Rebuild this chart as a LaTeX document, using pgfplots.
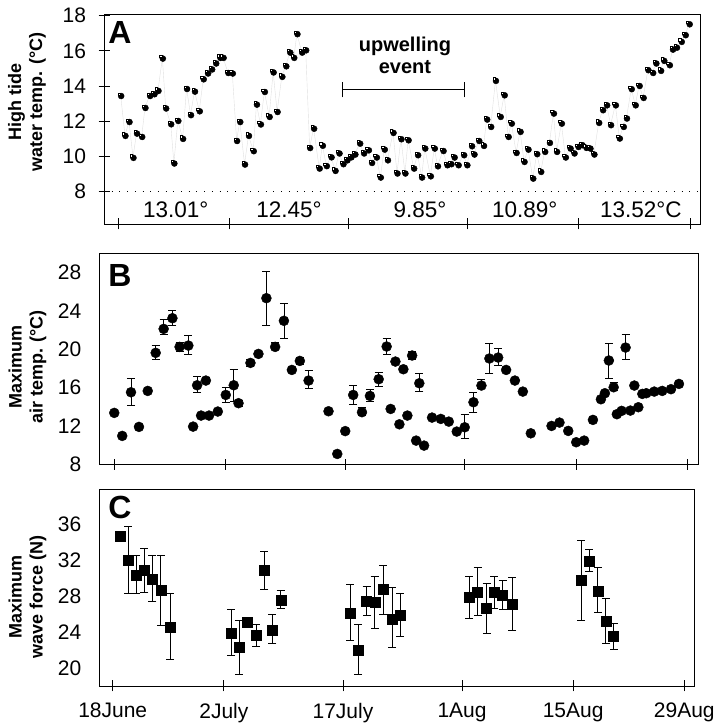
\documentclass[border=0pt]{standalone}
\usepackage{pgfplots}
\usepackage{pgfplotstable}
\pgfplotsset{compat=1.18}
\usepackage{fontspec}
\setmainfont{Liberation Sans}

\pgfplotstableread{
x y
0.3 13.46
0.84 11.19
1.35 11.98
1.85 9.94
2.3 11.32
2.95 11.13
3.36 12.78
3.95 13.46
4.5 13.56
5.0 13.75
5.55 15.59
5.97 12.75
6.6 11.85
7.0 9.62
7.5 12.04
8.1 11.02
8.6 13.86
9.1 12.37
9.6 13.71
10.2 12.59
10.7 14.41
11.25 14.74
11.76 14.97
12.27 15.31
12.8 15.63
13.2 15.63
13.8 14.77
14.36 14.74
14.9 10.9
15.3 11.98
15.9 9.56
16.4 11.19
17.0 10.32
17.4 12.97
17.9 11.84
18.4 13.69
19.0 12.27
19.5 14.8
20.0 12.55
20.6 14.55
21.1 15.15
21.6 15.93
22.1 15.63
22.5 16.98
23.1 15.93
23.6 16.06
24.1 10.5
24.6 11.6
25.3 9.33
25.7 10.63
26.2 9.47
26.8 9.97
27.3 9.2
27.8 10.19
28.3 9.58
28.8 9.8
29.3 9.97
29.8 10.13
30.4 10.75
30.9 10.19
31.5 10.37
31.9 9.65
32.5 9.96
33.0 8.82
33.5 10.41
33.9 9.8
34.6 11.36
35.1 9.05
35.6 11.0
36.1 9.05
36.5 10.94
37.2 9.33
37.7 10.09
38.2 8.82
38.6 10.47
39.3 8.89
39.8 10.47
40.2 9.46
40.9 10.33
41.4 9.52
41.9 9.58
42.3 9.96
42.8 9.52
43.5 10.09
43.9 9.52
44.5 10.6
44.8 10.13
45.4 10.9
46.0 10.62
46.4 12.12
46.9 11.7
47.5 14.32
48.1 12.27
48.6 13.5
49.1 11.13
49.5 11.89
50.1 10.22
50.6 11.42
51.1 9.71
51.6 10.41
52.2 8.76
52.7 10.15
53.2 9.14
53.7 10.28
54.3 10.79
54.8 12.46
55.2 10.28
55.8 11.89
56.3 9.96
56.9 10.47
57.4 10.19
57.9 10.56
58.4 10.66
58.9 10.51
59.4 10.47
59.9 10.13
60.5 11.93
61.0 12.65
61.5 12.93
62.0 11.8
62.6 12.93
63.1 11.04
63.6 11.7
64.0 12.18
64.6 13.85
65.1 12.93
65.6 14.03
66.1 13.35
66.7 14.93
67.3 14.77
67.7 15.31
68.3 14.89
68.7 15.46
69.4 15.21
69.8 16.1
70.3 16.21
70.9 16.54
71.4 16.92
71.9 17.54
}\dataA

\pgfplotstableread{
x y
0 13.36
1.0 10.96
3.1 11.9
4.2 15.65
9.9 11.93
10.9 13.08
11.9 13.08
13.0 13.5
18.1 19.51
22.3 17.84
26.9 13.53
28.0 9.08
29.0 11.46
34.7 13.77
35.3 18.71
35.8 12.17
36.3 17.91
36.8 13.08
37.9 10.47
38.9 9.95
39.9 12.87
41.0 12.73
42.0 12.45
43.0 11.41
49.2 17.84
50.3 16.73
51.3 15.58
52.3 11.23
54.9 12.0
55.9 12.35
57.0 11.48
58.0 10.3
59.0 10.47
60.1 12.63
61.1 14.78
61.6 15.41
63.1 13.22
63.7 13.57
64.8 13.6
65.3 16.21
65.8 13.95
66.3 15.34
66.8 15.41
67.8 15.58
68.8 15.65
69.9 15.83
70.9 16.38
}\dataB

\pgfplotstableread{
x y ep em
2.1 15.51 1.46 1.42
5.2 19.62 0.76 0.66
6.2 22.12 1.0 0.6
7.3 23.23 0.8 0.76
8.2 20.24 0.5 0.5
9.3 20.38 1.08 0.9
10.4 16.24 0.96 0.73
11.5 16.73 0.3 0.3
14.0 15.23 0.8 0.8
15.0 16.24 1.67 1.67
15.6 14.37 0.3 0.3
17.1 18.57 0.4 0.4
19.1 25.32 2.78 2.82
20.2 20.24 0.5 0.3
21.3 22.96 1.84 1.81
23.3 18.78 0.4 0.4
24.4 16.73 1.04 0.8
30.0 15.23 1.0 0.97
31.1 13.43 0.5 0.3
32.1 15.13 0.63 0.59
33.2 16.87 0.73 0.77
34.2 20.28 0.87 0.77
37.4 19.34 0.4 0.4
38.3 16.45 1.05 0.8
44.0 11.86 1.39 1.15
45.1 14.47 1.04 1.11
46.1 16.21 0.6 0.3
47.1 19.03 1.6 1.6
48.2 19.13 0.97 0.87
62.1 18.82 1.81 1.85
62.7 16.03 0.5 0.3
64.2 20.17 1.33 1.21
}\dataBerr

\pgfplotstableread{
x y ep em
1.97 32.04 3.7 3.71
2.94 30.37 2.22 2.04
3.99 30.93 2.4 2.49
5.0 29.93 2.66 2.53
6.05 28.7 3.89 3.89
7.22 24.52 3.81 3.52
14.9 23.89 2.67 2.41
15.9 22.33 2.97 3.0
18.05 23.63 1.3 1.23
19.1 30.85 2.19 2.07
20.1 24.26 1.78 1.48
21.16 27.52 1.18 0.85
29.9 26.11 3.22 2.96
30.9 22.04 2.85 2.71
31.98 27.41 1.66 1.56
33.0 27.3 2.89 2.86
34.1 28.78 2.7 2.78
35.2 25.44 3.56 3.11
36.2 25.93 2.4 2.33
44.9 27.89 2.3 2.33
45.97 28.44 2.78 2.59
47.1 26.67 2.77 2.78
48.07 28.41 1.78 1.74
49.1 28.07 1.74 1.47
50.3 27.11 3.0 2.92
59.0 29.74 4.52 4.44
60.0 31.96 1.26 1.16
61.1 28.59 2.63 2.37
62.1 25.26 2.52 2.48
63.1 23.52 1.48 1.41
}\dataCerr

\pgfplotstableread{
x y
0.92 34.7
16.96 25.1
}\dataC

\pgfplotsset{
  panel/.style={
    scale only axis, anchor=south west,
    axis line style={line width=0.8pt},
    xtick={0,14,29,44,58,72},
    xtick pos=bottom, ytick pos=left,
    tick align=center,
    major tick length=11pt,
    tick style={line width=0.8pt, black},
    ticklabel style={font=\fontsize{21}{24}\selectfont},
    yticklabel style={xshift=-9pt},
    xticklabel style={yshift=-8pt},
    /pgf/number format/assume math mode=true,
    clip=false,
  },
  ebar/.style={error bars/.cd, y dir=both, y explicit,
    error bar style={black, line width=0.8pt},
    error mark options={rotate=90, mark size=4pt, black, line width=0.8pt}},
}

\begin{document}
\begin{tikzpicture}[x=1pt,y=1pt]

% ---------------- Panel A
\begin{axis}[panel, at={(104pt,503pt)}, width=596pt, height=210pt,
  xmin=-1.8, xmax=73.26, ymin=6.15, ymax=18.1,
  ytick={8,10,...,18}, xticklabels={}]
\addplot[gray!25, line width=0.4pt] table[x=x,y=y] {\dataA};
\addplot[only marks, mark=*, mark size=3pt,
  mark options={fill=black, draw=black, xshift=0.5pt, yshift=-0.5pt}] table[x=x,y=y] {\dataA};
\addplot[only marks, mark=square*, mark size=1.1pt,
  mark options={fill=white, draw=black, line width=0.5pt, xshift=-1.6pt, yshift=1.6pt}] table[x=x,y=y] {\dataA};
\draw[black, line width=0.9pt, dash pattern=on 1pt off 6.7pt] (axis cs:-1.8,8) -- (axis cs:73.26,8);
\draw[line width=0.8pt] (axis cs:28.2,13.79) -- (axis cs:43.6,13.79);
\draw[line width=0.8pt] (axis cs:28.2,13.36) -- (axis cs:28.2,14.22);
\draw[line width=0.8pt] (axis cs:43.6,13.36) -- (axis cs:43.6,14.22);
\node[align=center, font=\bfseries\fontsize{20}{21.7}\selectfont] at (axis cs:36.1,15.73) {upwelling\\event};
\node[font=\fontsize{22.5}{26}\selectfont] at (axis cs:7.24,6.96) {13.01°};
\node[font=\fontsize{22.5}{26}\selectfont] at (axis cs:21.5,6.96) {12.45°};
\node[font=\fontsize{22.5}{26}\selectfont] at (axis cs:38.0,6.96) {9.85°};
\node[font=\fontsize{22.5}{26}\selectfont] at (axis cs:51.2,6.96) {10.89°};
\node[font=\fontsize{22.5}{26}\selectfont] at (axis cs:65.8,6.96) {13.52°C};
\end{axis}

% ---------------- Panel B
\begin{axis}[panel, at={(99.3pt,262.7pt)}, width=599pt, height=211pt,
  xmin=-1.88, xmax=73.33, ymin=8, ymax=30,
  ytick={8,12,...,28}, xticklabels={}, ytick style={draw=none}]
\addplot[only marks, mark=*, mark size=5pt, black, ebar] table[x=x, y=y, y error plus=ep, y error minus=em] {\dataBerr};
\addplot[only marks, mark=*, mark size=5pt, black] table[x=x,y=y] {\dataB};
\end{axis}

% ---------------- Panel C
\begin{axis}[panel, at={(99.3pt,41pt)}, width=594.7pt, height=196.7pt,
  xmin=-1.69, xmax=73.22, ymin=18.03, ymax=39.9,
  ytick={20,24,...,36}, ytick style={draw=none},
  xticklabels={18June,2July,17July,1Aug,15Aug,29Aug}]
\addplot[only marks, mark=square*, mark size=5pt, black, ebar] table[x=x, y=y, y error plus=ep, y error minus=em] {\dataCerr};
\addplot[only marks, mark=square*, mark size=5pt, black] table[x=x,y=y] {\dataC};
\end{axis}

\node[font=\fontsize{32}{36}\selectfont\bfseries] at (120pt,694pt) {A};
\node[font=\fontsize{32}{36}\selectfont\bfseries] at (120pt,452pt) {B};
\node[font=\fontsize{32}{36}\selectfont\bfseries] at (120pt,219.5pt) {C};

\node[rotate=90, align=center, font=\bfseries\fontsize{18}{21}\selectfont] at (27pt,625pt) {High tide\\water temp. (°C)};
\node[rotate=90, align=center, font=\bfseries\fontsize{18}{21}\selectfont] at (27.5pt,360pt) {Maximum\\air temp. (°C)};
\node[rotate=90, align=center, font=\bfseries\fontsize{18}{21}\selectfont] at (27.5pt,130pt) {Maximum\\wave force (N)};
\path (0pt,0pt) rectangle (716pt,727pt);
\end{tikzpicture}
\end{document}
